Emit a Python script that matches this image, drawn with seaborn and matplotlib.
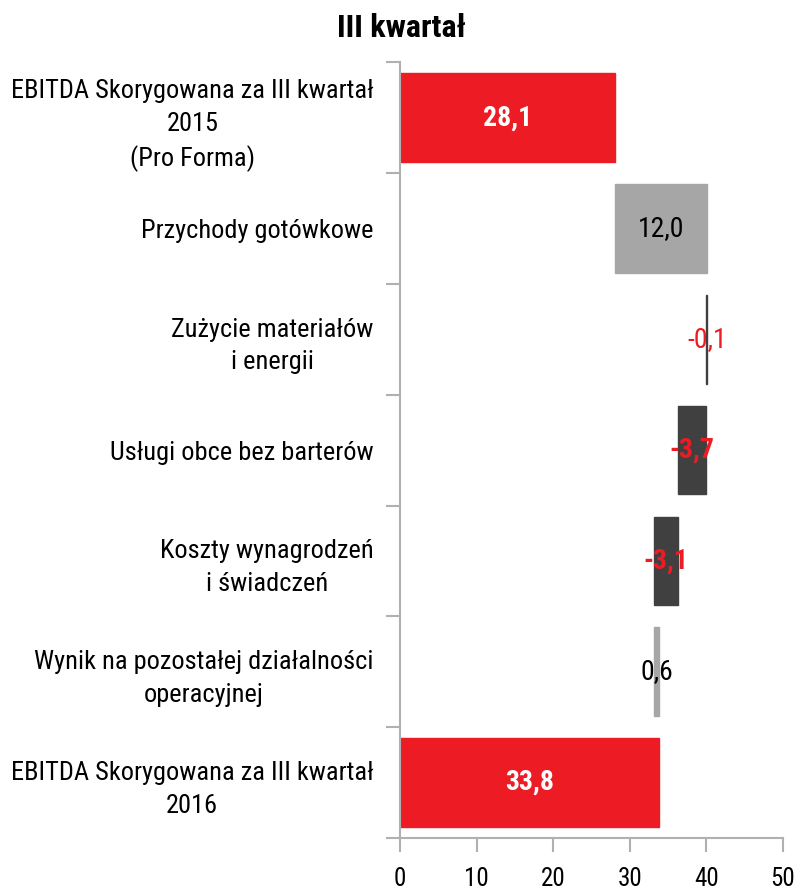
import matplotlib
matplotlib.use("Agg")
import matplotlib.pyplot as plt
import matplotlib.font_manager as fm
from matplotlib.ticker import MultipleLocator, FixedLocator
import numpy as np
import pandas as pd
import seaborn as sns

# ==================== DATA ====================
categories = [
    "EBITDA Skorygowana za III kwartał\n2015\n(Pro Forma)",
    "Przychody gotówkowe",
    "Zużycie materiałów\ni energii",
    "Usługi obce bez barterów",
    "Koszty wynagrodzeń\ni świadczeń",
    "Wynik na pozostałej działalności\noperacyjnej",
    "EBITDA Skorygowana za III kwartał\n2016",
]
changes = [28.1, 12.0, -0.1, -3.7, -3.1, 0.6, 33.8]
is_total = [True, False, False, False, False, False, True]
value_labels = ["28,1", "12,0", "-0,1", "-3,7", "-3,1", "0,6", "33,8"]

# ==================== STYLE ====================
RED = "#ED1C24"
GREY = "#A6A6A6"
DARK = "#404040"
AXIS = "#B0B0B0"

sns.set_theme(style="white")
names = {f.name for f in fm.fontManager.ttflist}
family = [f for f in ["Roboto Condensed", "Liberation Sans Narrow", "Roboto"] if f in names]
plt.rcParams["font.family"] = family + ["DejaVu Sans"]

# waterfall bases
running = 0.0
bases, widths = [], []
for val, tot in zip(changes, is_total):
    if tot:
        bases.append(0.0)
        widths.append(val)
        running = val
    else:
        bases.append(running + min(val, 0))
        widths.append(abs(val))
        running += val

df = pd.DataFrame({"category": categories, "width": widths, "base": bases})

bar_colors = []
for val, tot in zip(changes, is_total):
    if tot:
        bar_colors.append(RED)
    elif val > 0:
        bar_colors.append(GREY)
    else:
        bar_colors.append(DARK)

fig = plt.figure(figsize=(8.02, 8.9), dpi=100)
ax = fig.add_axes([0.4988, 0.0584, 0.4775, 0.8716])

sns.barplot(data=df, x="width", y="category", orient="h", left=df["base"].values,
            width=0.8, color=RED, ax=ax, saturation=1)
for patch, c in zip(ax.patches, bar_colors):
    patch.set_facecolor(c)
    patch.set_edgecolor(c)
    patch.set_linewidth(1.0)

# value labels
texts = ax.bar_label(ax.containers[0], labels=value_labels, label_type="center", fontsize=20)
for t, val, tot in zip(texts, changes, is_total):
    if tot:
        t.set_color("white")
        t.set_fontweight("bold")
    elif val < 0:
        t.set_color(RED)
        if val < -1:
            t.set_fontweight("bold")
    else:
        t.set_color("black")

ax.set_xlim(0, 50)
ax.set_ylim(len(categories) - 0.5, -0.5)
ax.xaxis.set_major_locator(MultipleLocator(10))
ax.yaxis.set_minor_locator(FixedLocator(np.arange(-0.5, len(categories), 1.0)))
ax.set_xlabel("")
ax.set_ylabel("")

for side in ["top", "right"]:
    ax.spines[side].set_visible(False)
for side in ["left", "bottom"]:
    ax.spines[side].set_color(AXIS)
    ax.spines[side].set_linewidth(1.5)

ax.tick_params(axis="x", which="major", direction="out", length=10, width=1.5,
               color=AXIS, labelsize=18, pad=11, bottom=True, labelcolor="black")
ax.tick_params(axis="y", which="major", length=0, labelsize=19, pad=19, labelcolor="black")
ax.tick_params(axis="y", which="minor", direction="out", length=10, width=1.5,
               color=AXIS, left=True)
for lab in ax.get_yticklabels():
    lab.set_multialignment("center")
    lab.set_linespacing(1.45)

fig.suptitle("III kwartał", x=0.5, y=0.985, fontsize=23, fontweight="bold", color="black")

fig.savefig("out.png", dpi=100)
